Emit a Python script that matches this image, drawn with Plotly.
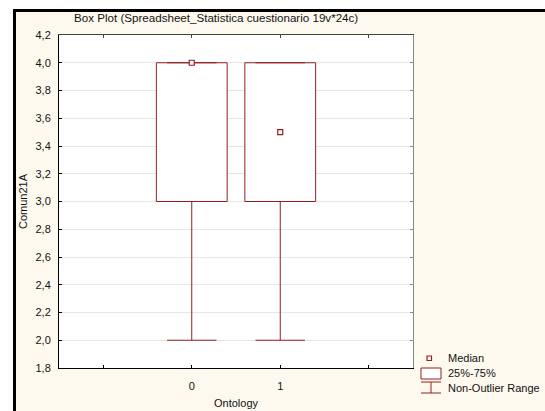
import plotly.graph_objects as go

# ---- data ----
categories = [0, 1]
cat_labels = ["0", "1"]
q1 = [3.0, 3.0]
q3 = [4.0, 4.0]
median = [4.0, 3.5]
whisk_low = [2.0, 2.0]
whisk_high = [4.0, 4.0]
x_tickvals = [-1, 0, 1, 2]
x_ticktext = ["", "0", "1", ""]
y_tickvals = [1.8, 2.0, 2.2, 2.4, 2.6, 2.8, 3.0, 3.2, 3.4, 3.6, 3.8, 4.0, 4.2]
y_ticktext = ["1,8", "2,0", "2,2", "2,4", "2,6", "2,8", "3,0", "3,2", "3,4", "3,6", "3,8", "4,0", "4,2"]

RED = "#951f1f"
CREAM = "#fef9ee"
FONT = "Liberation Sans, Arial, sans-serif"
BOX_W = 0.8
CAP_HALF = 0.28

# window geometry: the figure div sits at (13, 9) with a 3px black border on left/top
WIN_W, WIN_H = 545, 411
OX, OY = 16, 12                     # figure origin inside the window
W, H = WIN_W - OX, WIN_H - OY       # figure size
PL, PR, PT, PB = 59, 413, 35, 368   # plot area in window pixels
ML, MR, MT, MB = PL - OX, WIN_W - PR, PT - OY, WIN_H - PB
PW, PH = PR - PL, PB - PT


def xp(px):
    return (px - PL) / PW


def yp(py):
    return (PB - py) / PH


fig = go.Figure()

# whiskers and caps
wx, wy = [], []
for c, lo, hi, a, b in zip(categories, whisk_low, whisk_high, q1, q3):
    wx += [c, c, None, c - CAP_HALF, c + CAP_HALF, None, c, c, None, c - CAP_HALF, c + CAP_HALF, None]
    wy += [lo, a, None, lo, lo, None, b, hi, None, hi, hi, None]
fig.add_trace(go.Scatter(x=wx, y=wy, mode="lines", line=dict(color=RED, width=1),
                         hoverinfo="skip", showlegend=False))

# boxes
fig.add_trace(go.Bar(x=categories, base=q1, y=[b - a for a, b in zip(q1, q3)], width=BOX_W,
                     marker=dict(color="white", line=dict(color=RED, width=1)),
                     showlegend=False))

# medians
fig.add_trace(go.Scatter(x=categories, y=median, mode="markers",
                         marker=dict(symbol="square", size=5, color="white",
                                     line=dict(color=RED, width=1.2)),
                         showlegend=False))

# dummy for mirror axes
fig.add_trace(go.Scatter(x=categories, y=median, xaxis="x2", yaxis="y2", mode="markers",
                         marker=dict(opacity=0), hoverinfo="skip", showlegend=False))

axis_font = dict(family=FONT, size=11, color="#111111")
fig.update_layout(
    width=W, height=H,
    margin=dict(l=ML, r=MR, t=MT, b=MB, pad=0),
    paper_bgcolor=CREAM, plot_bgcolor="white",
    barmode="overlay",
    showlegend=False,
    hovermode=False,
    xaxis=dict(range=[-1.5, 2.5], tickvals=x_tickvals, ticktext=x_ticktext,
               ticks="inside", ticklen=3, tickcolor="black", showgrid=False,
               showline=True, linecolor="black", linewidth=1, zeroline=False,
               tickfont=axis_font, ticklabelstandoff=8),
    yaxis=dict(range=[1.8, 4.2], tickvals=y_tickvals, ticktext=y_ticktext,
               ticks="inside", ticklen=3, tickcolor="black",
               showgrid=True, gridcolor="#e6e6e6", gridwidth=1,
               showline=True, linecolor="black", linewidth=1, zeroline=False,
               tickfont=axis_font, ticklabelstandoff=5),
    xaxis2=dict(overlaying="x", matches="x", side="top", tickvals=x_tickvals,
                showticklabels=False, ticks="inside", ticklen=3, tickcolor="#444444",
                showline=True, linecolor="#444444", linewidth=1, showgrid=False, zeroline=False),
    yaxis2=dict(overlaying="y", matches="y", side="right", tickvals=y_tickvals,
                showticklabels=False, ticks="inside", ticklen=3, tickcolor="#888888",
                showline=True, linecolor="#888888", linewidth=1, showgrid=False, zeroline=False),
)

shapes = []
# legend icons
shapes.append(dict(type="rect", xref="paper", yref="paper", x0=xp(427), x1=xp(431.5), y0=yp(356), y1=yp(360.5),
                   fillcolor="white", line=dict(color=RED, width=1.2)))
shapes.append(dict(type="rect", xref="paper", yref="paper", x0=xp(421), x1=xp(441), y0=yp(368), y1=yp(379),
                   fillcolor="white", line=dict(color=RED, width=1)))
for (x0, y0, x1, y1) in [(421, 382, 441, 382), (431, 382, 431, 393), (421, 393, 441, 393)]:
    shapes.append(dict(type="line", xref="paper", yref="paper", x0=xp(x0), x1=xp(x1), y0=yp(y0), y1=yp(y1),
                       line=dict(color=RED, width=1)))
fig.update_layout(shapes=shapes)

txt_font = dict(family=FONT, size=11, color="#111111")
ann = []
ann.append(dict(text="Box Plot (Spreadsheet_Statistica cuestionario 19v*24c)", x=xp(72), y=yp(17.5),
                xref="paper", yref="paper", xanchor="left", yanchor="middle", showarrow=False,
                font=dict(family=FONT, size=11.6, color="#111111")))
ann.append(dict(text="Comun21A", x=xp(23), y=yp(201), xref="paper", yref="paper", textangle=-90,
                xanchor="center", yanchor="middle", showarrow=False, font=txt_font))
ann.append(dict(text="Ontology", x=xp(236), y=yp(403), xref="paper", yref="paper",
                xanchor="center", yanchor="middle", showarrow=False, font=txt_font))
for txt, py in [("Median", 358.3), ("25%-75%", 373.5), ("Non-Outlier Range", 388.5)]:
    ann.append(dict(text=txt, x=xp(446), y=yp(py), xref="paper", yref="paper",
                    xanchor="left", yanchor="middle", showarrow=False, font=txt_font))
fig.update_layout(annotations=ann)

post = (
    "document.body.style.margin='0';"
    "document.body.style.overflow='hidden';"
    "document.body.style.background='white';"
    "var d=document.getElementById('{plot_id}');"
    "d.style.position='absolute';"
    "d.style.left='13px';d.style.top='9px';"
    "d.style.borderLeft='3px solid black';d.style.borderTop='3px solid black';"
)
fig.write_html("out.html", config={"displayModeBar": False}, post_script=post)
